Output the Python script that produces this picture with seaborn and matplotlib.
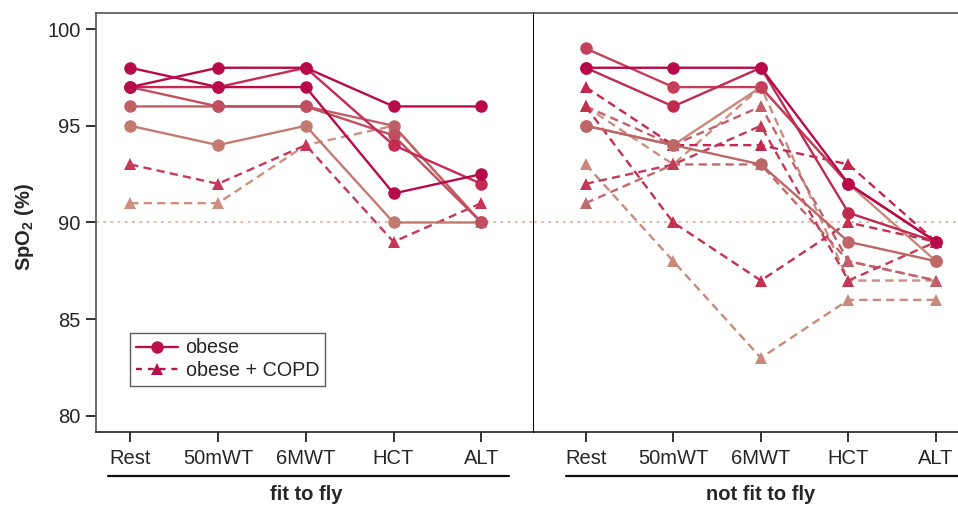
import pandas as pd
import matplotlib.pyplot as plt
import seaborn as sns
from matplotlib.lines import Line2D

sns.set_style("white")
plt.rcParams['font.family'] = ['Liberation Sans', 'DejaVu Sans']
plt.rcParams['mathtext.fontset'] = 'custom'
plt.rcParams['mathtext.rm'] = 'Liberation Sans'
plt.rcParams['mathtext.bf'] = 'Liberation Sans:bold'

stages = ["Rest", "50mWT", "6MWT", "HCT", "ALT"]

# fit to fly
fit_obese = [
    [95, 94, 95, 90, 90],
    [96, 96, 96, 95, 90],
    [97, 96, 96, 94.5, 90],
    [97, 97, 98, 94, 92],
    [97, 98, 98, 96, 96],
    [98, 97, 97, 91.5, 92.5],
]
fit_obese_colors = ["#c47a70", "#bf6065", "#c0505f", "#c62a52", "#b80a48", "#b80a48"]
fit_copd = [
    [91, 91, 94, 95, 90],
    [93, 92, 94, 89, 91],
]
fit_copd_colors = ["#cc8f80", "#c6375a"]

# not fit to fly
unfit_obese = [
    [95, 94, 97, 92, 88],
    [95, 94, 93, 89, 88],
    [99, 97, 97, 92, 89],
    [98, 96, 98, 90.5, 89],
    [98, 98, 98, 92, 89],
]
unfit_obese_colors = ["#c8887a", "#bd6666", "#c4405a", "#c02a50", "#b8094a"]
unfit_copd = [
    [93, 88, 83, 86, 86],
    [96, 93, 97, 87, 87],
    [91, 93, 93, 88, 87],
    [96, 94, 96, 88, 87],
    [92, 93, 95, 87, 89],
    [96, 90, 87, 90, 89],
    [97, 94, 94, 93, 89],
]
unfit_copd_colors = ["#c98a7c", "#c8907f", "#c0686a", "#c0606a", "#c23a58", "#c43050", "#c4284f"]


def build(obese, obese_colors, copd, copd_colors):
    rows = []
    pal = {}
    k = 0
    for group, series, cols in [("obese + COPD", copd, copd_colors), ("obese", obese, obese_colors)]:
        for vals, c in zip(series, cols):
            sid = f"s{k}"
            pal[sid] = c
            for i, v in enumerate(vals):
                rows.append({"subject": sid, "group": group, "pos": i, "spo2": v})
            k += 1
    return pd.DataFrame(rows), pal


fig = plt.figure(figsize=(9.58, 5.05), dpi=100)
axL = fig.add_axes([96/958, 73/505, 438/958, 419/505])
axR = fig.add_axes([534/958, 73/505, 424/958, 419/505])

panels = [
    (axL, build(fit_obese, fit_obese_colors, fit_copd, fit_copd_colors), (-0.39, 4.6), "fit to fly", (-0.25, 4.31)),
    (axR, build(unfit_obese, unfit_obese_colors, unfit_copd, unfit_copd_colors), (-0.59, 4.25), "not fit to fly", (-0.23, 4.3)),
]

FS = 14.5

for ax, (df, pal), xlim, label, uline in panels:
    ax.axhline(90, color="#dcb4aa", ls=(0, (1.5, 2.5)), lw=1.3, zorder=0)
    sns.lineplot(data=df, x="pos", y="spo2", hue="subject", style="group",
                 palette=pal, hue_order=list(pal.keys()),
                 markers={"obese": "o", "obese + COPD": "^"},
                 dashes={"obese": "", "obese + COPD": (3.5, 2.2)},
                 markersize=9, markeredgewidth=0, linewidth=1.7,
                 estimator=None, sort=False, legend=False, ax=ax)
    ax.set_xlim(*xlim)
    ax.set_ylim(79.17, 100.83)
    ax.set_xticks(range(len(stages)))
    ax.set_xticklabels(stages)
    ax.set_xlabel("")
    ax.set_ylabel("")
    ax.tick_params(axis="x", direction="out", length=7, width=1.3, color="#222",
                   labelsize=FS, pad=5, bottom=True)
    for s in ["top", "bottom", "left", "right"]:
        ax.spines[s].set_color("#555")
        ax.spines[s].set_linewidth(1.2)
    ax.spines["bottom"].set_color("#222")
    ax.plot(list(uline), [-0.105, -0.105], color="#111", lw=1.6,
            transform=ax.get_xaxis_transform(), clip_on=False)
    ax.text(2, -0.15, label, transform=ax.get_xaxis_transform(), ha="center", va="center",
            fontsize=FS, fontweight="bold")

axL.set_yticks([80, 85, 90, 95, 100])
axL.tick_params(axis="y", direction="out", length=7, width=1.3, color="#222",
                labelsize=FS, pad=4, left=True)
axL.spines["right"].set_color("#000")
axL.spines["right"].set_linewidth(1.4)
axR.tick_params(axis="y", left=False, labelleft=False)
axR.spines["left"].set_visible(False)
axR.spines["right"].set_visible(False)

fig.text(25/958, 1 - 227/505, r"SpO$_\mathbf{2}$ (%)", rotation=90, fontweight="bold",
         fontsize=FS, ha="center", va="center")

handles = [
    Line2D([], [], color="#b8124a", marker="o", ms=9, mew=0, lw=1.7),
    Line2D([], [], color="#b8124a", marker="^", ms=9, mew=0, lw=1.7, ls=(0, (2.5, 2.5))),
]
leg = axL.legend(handles, ["obese", "obese + COPD"], loc="lower left",
                 bbox_to_anchor=(0.065, 0.095), fontsize=14.2, handlelength=2.1,
                 frameon=True, fancybox=False, edgecolor="#333", borderpad=0.3,
                 labelspacing=0.2, handletextpad=0.4, borderaxespad=0.3)
leg.get_frame().set_linewidth(1.0)

fig.savefig("out.png", dpi=100)
